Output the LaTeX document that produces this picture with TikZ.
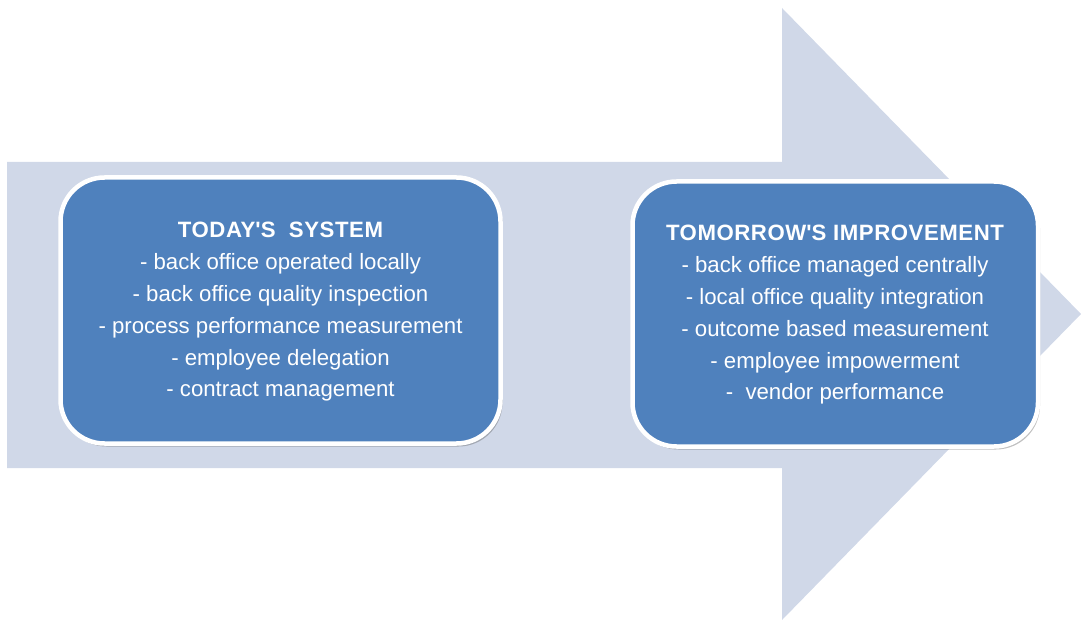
\documentclass[tikz,border=0pt]{standalone}
\usepackage{fontspec}
\setmainfont{Liberation Sans}
\usetikzlibrary{shadows}
\definecolor{arrowfill}{HTML}{D0D8E8}
\definecolor{boxfill}{HTML}{4F81BD}
\tikzset{
  panel/.style={draw=white, line width=4.5pt, fill=boxfill, rounded corners=44pt,
    drop shadow={shadow xshift=2pt, shadow yshift=-3pt, opacity=0.35, fill=black!70}},
  panetext/.style={text=white, align=center, font=\fontsize{22.2}{31.8}\selectfont, inner sep=0pt},
}
\newcommand{\panelhead}[1]{{\bfseries\addfontfeature{LetterSpace=2.5}#1}}
\begin{document}
\begin{tikzpicture}[x=1pt, y=-1pt]
  \useasboundingbox (0,0) rectangle (1081,620);
  % broad background arrow
  \fill[arrowfill] (7,162) -- (782,162) -- (782,8) -- (1081,314) -- (782,620)
    -- (782,468) -- (7,468) -- cycle;
  % the two rounded panels
  \path[panel] (60.5,177.5) rectangle (500.5,443.5);
  \path[panel] (632.5,181.5) rectangle (1038,446.5);
  % panel contents
  \node[panetext] (today) at (280.5,312) {%
    \panelhead{TODAY\textquotesingle S\ \ SYSTEM}\\
    - back office operated locally\\
    - back office quality inspection\\
    - process performance measurement\\
    - employee delegation\\
    - contract management};
  \node[panetext] (tomorrow) at (835,315) {%
    \panelhead{TOMORROW\textquotesingle S IMPROVEMENT}\\
    - back office managed centrally\\
    - local office quality integration\\
    - outcome based measurement\\
    - employee impowerment\\
    -\ \ vendor performance};
\end{tikzpicture}
\end{document}
